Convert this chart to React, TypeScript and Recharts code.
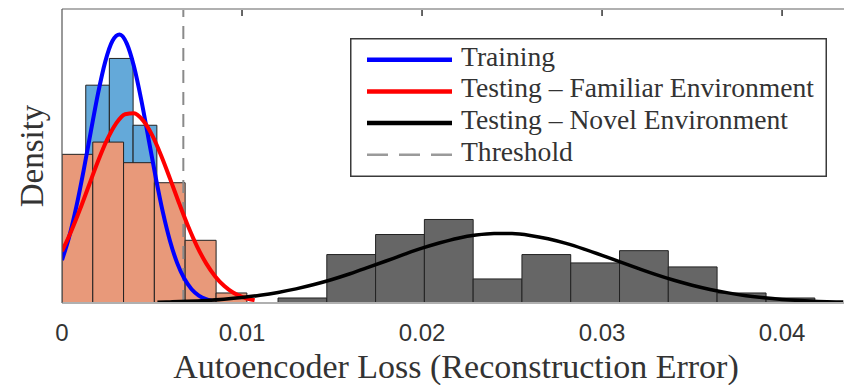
import React from 'react';
import {
  ComposedChart,
  Line,
  XAxis,
  YAxis,
  ReferenceArea,
  ReferenceLine,
  Legend,
} from 'recharts';

// ---- Histogram data (density) ----
const trainingEdges = [0, 0.00132, 0.00263, 0.00395, 0.00527, 0.00658, 0.0079];
const trainingDensity = [72, 195.6, 219.6, 159.6, 85, 32];

const familiarEdges = [0, 0.00171, 0.00342, 0.00513, 0.00684, 0.00856, 0.01027];
const familiarDensity = [133.5, 144.5, 126, 108, 56.3, 9];

const novelEdges = [
  0.012, 0.01471, 0.01742, 0.02013, 0.02284, 0.02555, 0.02826, 0.03097, 0.03368,
  0.03639, 0.03911, 0.04182,
];
const novelDensity = [4.5, 43.5, 61.5, 75, 21.6, 43.5, 36, 47, 32.4, 9, 4.5];

// ---- Fitted density curves ----
const trainingCurveX = [
  0, 0.0004, 0.0008, 0.0012, 0.0016, 0.002, 0.0024, 0.0028, 0.0032, 0.0036, 0.004,
  0.0044, 0.0048, 0.0052, 0.0056, 0.006, 0.0064, 0.0068, 0.0072, 0.0076, 0.008, 0.0083,
];
const trainingCurveY = [
  38.6, 59.6, 86.7, 118.9, 153.9, 188.0, 216.5, 235.2, 241.0, 232.9, 212.3, 182.6,
  148.1, 113.3, 81.8, 55.7, 35.8, 21.7, 12.4, 6.7, 3.4, 2.0,
];

const familiarCurveX = [
  0, 0.0005, 0.001, 0.0015, 0.002, 0.0025, 0.003, 0.0035, 0.004, 0.0045, 0.005,
  0.0055, 0.006, 0.0065, 0.007, 0.0075, 0.008, 0.0085, 0.009, 0.0095, 0.01, 0.0105,
  0.0107,
];
const familiarCurveY = [
  46.5, 64.0, 84.1, 105.8, 127.3, 146.4, 161.1, 169.5, 170.5, 164.0, 150.9, 132.7,
  111.7, 89.8, 69.1, 50.9, 35.8, 24.1, 15.5, 9.5, 5.6, 3.2, 2.5,
];

const novelCurveX = [
  0.0053, 0.006, 0.007, 0.008, 0.009, 0.01, 0.011, 0.012, 0.013, 0.014, 0.015, 0.016,
  0.017, 0.018, 0.019, 0.02, 0.021, 0.022, 0.023, 0.024, 0.025, 0.026, 0.027, 0.028,
  0.029, 0.03, 0.031, 0.032, 0.033, 0.034, 0.035, 0.036, 0.037, 0.038, 0.039, 0.04,
  0.041, 0.042, 0.043, 0.0434,
];
const novelCurveY = [
  0.72, 0.99, 1.53, 2.32, 3.42, 4.92, 6.91, 9.48, 12.69, 16.56, 21.1, 26.25, 31.9,
  37.7, 43.6, 49.2, 54.1, 58.2, 61.0, 62.4, 62.3, 60.7, 57.7, 53.5, 48.4, 42.8, 36.9,
  31.1, 25.5, 20.4, 16.0, 12.2, 9.08, 6.6, 4.68, 3.24, 2.19, 1.44, 0.93, 0.8,
];

const threshold = 0.00674;

const xTicks = [0, 0.01, 0.02, 0.03, 0.04];
const topTicks = [0.01, 0.02, 0.03, 0.04];
const xDomain = [0, 0.04344];
const yDomain = [0, 264];
const topTickLength = 6.3; // in density units (~7 px)

const legendLabels = [
  'Training',
  'Testing \u2013 Familiar Environment',
  'Testing \u2013 Novel Environment',
  'Threshold',
];
const legendColors = ['#0000ff', '#ff0000', '#000000', '#9a9a9a'];

const xLabel = 'Autoencoder Loss (Reconstruction Error)';
const yLabel = 'Density';

const toPoints = (xs: number[], ys: number[]) => xs.map((x, i) => ({ x, y: ys[i] }));

const trainingCurve = toPoints(trainingCurveX, trainingCurveY);
const familiarCurve = toPoints(familiarCurveX, familiarCurveY);
const novelCurve = toPoints(novelCurveX, novelCurveY);

const SERIF = 'Liberation Serif';
const SANS = 'Liberation Sans';

const XTick = (props: any) => {
  const v = props.payload.value;
  return (
    <text
      x={props.x}
      y={341}
      textAnchor="middle"
      style={{ fontFamily: SANS }}
      fontSize={24}
      fill="#333"
    >
      {v === 0 ? '0' : String(v)}
    </text>
  );
};

const XLabel = () => (
  <text
    x={456}
    y={378}
    textAnchor="middle"
    style={{ fontFamily: SERIF }}
    fontSize={34}
    fill="#333"
  >
    {xLabel}
  </text>
);

const YLabel = () => (
  <text
    transform="translate(43,156) rotate(-90)"
    textAnchor="middle"
    style={{ fontFamily: SERIF }}
    fontSize={33}
    fill="#333"
  >
    {yLabel}
  </text>
);

const LegendBox = () => {
  const rowY = [21.7, 53.4, 85, 116.7];
  return (
    <svg width={477} height={139} style={{ display: 'block' }}>
      <rect
        x={0.75}
        y={0.75}
        width={475.5}
        height={137.5}
        fill="#fff"
        stroke="#3a3a3a"
        strokeWidth={1.5}
      />
      {legendLabels.map((lab, i) => (
        <g key={lab}>
          <line
            x1={17}
            x2={102}
            y1={rowY[i]}
            y2={rowY[i]}
            stroke={legendColors[i]}
            strokeWidth={i === 3 ? 2.5 : 4.5}
            strokeDasharray={i === 3 ? '21 11' : undefined}
          />
          <text
            x={111}
            y={rowY[i] + 6}
            style={{ fontFamily: SERIF }}
            fontSize={27.6}
            fill="#333"
          >
            {lab}
          </text>
        </g>
      ))}
    </svg>
  );
};

const bins = (edges: number[], dens: number[], fill: string, key: string) =>
  dens.map((h, i) => (
    <ReferenceArea
      key={key + i}
      x1={edges[i]}
      x2={edges[i + 1]}
      y1={0}
      y2={h}
      fill={fill}
      fillOpacity={1}
      stroke="#222"
      strokeWidth={1}
      ifOverflow="hidden"
    />
  ));

export default function App() {
  return (
    <div
      style={{
        position: 'absolute',
        left: 0,
        top: 0,
        width: 844,
        height: 385,
        background: '#fff',
      }}
    >
      <ComposedChart
        width={844}
        height={385}
        margin={{ top: 9, right: 0, bottom: 0, left: 61 }}
      >
        <XAxis
          dataKey="x"
          type="number"
          domain={xDomain}
          ticks={xTicks}
          allowDataOverflow
          height={82}
          axisLine={{ stroke: '#b0b0b0', strokeWidth: 2 }}
          tickLine={false}
          tick={<XTick />}
          label={<XLabel />}
        />
        <XAxis
          xAxisId="top"
          orientation="top"
          type="number"
          domain={xDomain}
          allowDataOverflow
          height={1}
          mirror
          axisLine={{ stroke: '#b0b0b0', strokeWidth: 2 }}
          tickLine={false}
          tick={false}
        />
        <YAxis
          type="number"
          domain={yDomain}
          allowDataOverflow
          width={1}
          axisLine={{ stroke: '#555', strokeWidth: 1.2 }}
          tickLine={false}
          tick={false}
          label={<YLabel />}
        />
        {topTicks.map((t) => (
          <ReferenceLine
            key={'tt' + t}
            segment={[
              { x: t, y: yDomain[1] },
              { x: t, y: yDomain[1] - topTickLength },
            ]}
            stroke="#333"
            strokeWidth={1.5}
          />
        ))}
        <ReferenceLine
          x={threshold}
          stroke="#8a8a8a"
          strokeWidth={2}
          strokeDasharray="13 9"
        />
        {bins(trainingEdges, trainingDensity, '#64a9d9', 'tr')}
        {bins(familiarEdges, familiarDensity, '#e8997a', 'fa')}
        {bins(novelEdges, novelDensity, '#666666', 'no')}
        <Line
          data={trainingCurve}
          dataKey="y"
          type="monotone"
          dot={false}
          stroke="#0000ff"
          strokeWidth={4}
          isAnimationActive={false}
        />
        <Line
          data={familiarCurve}
          dataKey="y"
          type="monotone"
          dot={false}
          stroke="#ff0000"
          strokeWidth={4}
          isAnimationActive={false}
        />
        <Line
          data={novelCurve}
          dataKey="y"
          type="monotone"
          dot={false}
          stroke="#000000"
          strokeWidth={3.5}
          isAnimationActive={false}
        />
        <Legend
          layout="horizontal"
          verticalAlign="middle"
          align="center"
          content={<LegendBox />}
          wrapperStyle={{ position: 'absolute', left: 350, top: 38, width: 477, height: 139 }}
        />
      </ComposedChart>
    </div>
  );
}
